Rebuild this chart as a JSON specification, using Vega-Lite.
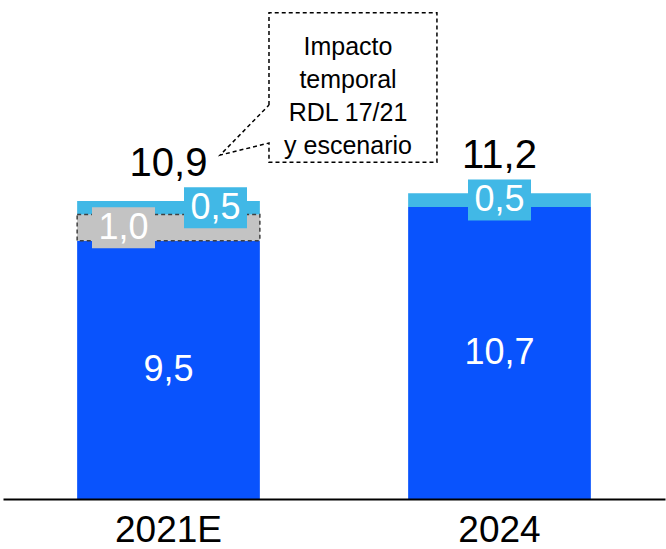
{
  "$schema": "https://vega.github.io/schema/vega-lite/v6.json",
  "width": 662,
  "height": 499,
  "autosize": "none",
  "padding": {"left": 3, "top": 0, "right": 1, "bottom": 50},
  "background": "#ffffff",
  "config": {
    "view": {"stroke": null},
    "font": "Liberation Sans",
    "locale": {"number": {"decimal": ",", "thousands": ".", "grouping": [3], "currency": ["", " €"]}}
  },
  "datasets": {
    "bars": [
      {"year": "2021E", "seg": "Base", "value": 9.46, "ord": 1},
      {"year": "2021E", "seg": "Impacto RDL", "value": 0.96, "ord": 2},
      {"year": "2021E", "seg": "Otros", "value": 0.5, "ord": 3},
      {"year": "2024", "seg": "Base", "value": 10.7, "ord": 1},
      {"year": "2024", "seg": "Otros", "value": 0.5, "ord": 3}
    ],
    "callout": [
      {"cx": 0.8036, "cy": 14.43, "k": 1},
      {"cx": 0.8036, "cy": 17.81, "k": 2},
      {"cx": 1.311, "cy": 17.81, "k": 3},
      {"cx": 1.311, "cy": 12.34, "k": 4},
      {"cx": 0.8036, "cy": 12.34, "k": 5},
      {"cx": 0.8036, "cy": 13.04, "k": 6},
      {"cx": 0.656, "cy": 12.6, "k": 7},
      {"cx": 0.8036, "cy": 14.43, "k": 8}
    ],
    "calloutText": [
      {"cx": 1.0423, "cy": 16.26, "txt": "Impacto\ntemporal\nRDL 17/21\ny escenario"}
    ]
  },
  "resolve": {"scale": {"x": "independent"}},
  "layer": [
    {
      "data": {"name": "bars"},
      "transform": [
        {"stack": "value", "groupby": ["year"], "sort": [{"field": "ord", "order": "ascending"}], "as": ["v0", "v1"]},
        {"calculate": "(datum.v0 + datum.v1) / 2", "as": "mid"}
      ],
      "encoding": {
        "x": {
          "field": "year", "type": "nominal", "sort": ["2021E", "2024"],
          "scale": {"paddingInner": 0.448, "paddingOuter": 0.224},
          "axis": {
            "title": null, "labelAngle": 0, "labelFontSize": 37, "labelColor": "#000000",
            "labelFont": "Liberation Sans", "ticks": false, "domainColor": "#000000",
            "domainWidth": 2, "labelPadding": 42, "labelBaseline": "alphabetic",
            "grid": false, "zindex": 1
          }
        }
      },
      "layer": [
        {
          "mark": {"type": "bar"},
          "encoding": {
            "y": {"field": "v0", "type": "quantitative", "scale": {"domain": [0, 18.28], "nice": false, "zero": false}, "axis": null},
            "y2": {"field": "v1"},
            "color": {"field": "seg", "type": "nominal", "scale": {"domain": ["Base", "Impacto RDL", "Otros"], "range": ["#0953FD", "#C3C3C3", "#41B8E6"]}, "legend": null}
          }
        },
        {
          "transform": [{"filter": "datum.seg === 'Impacto RDL'"}],
          "mark": {"type": "bar", "fillOpacity": 0, "stroke": "#404040", "strokeWidth": 1.5, "strokeDash": [4, 3]},
          "encoding": {
            "y": {"field": "v0", "type": "quantitative", "scale": {"domain": [0, 18.28], "nice": false, "zero": false}, "axis": null},
            "y2": {"field": "v1"}
          }
        },
        {
          "transform": [{"filter": "datum.seg === 'Base'"}],
          "mark": {"type": "text", "fontSize": 36, "color": "#ffffff", "baseline": "middle", "align": "center"},
          "encoding": {
            "y": {"field": "mid", "type": "quantitative", "scale": {"domain": [0, 18.28], "nice": false, "zero": false}, "axis": null},
            "text": {"field": "value", "type": "quantitative", "format": ".1f"}
          }
        },
        {
          "transform": [{"filter": "datum.year === '2021E' && datum.seg === 'Impacto RDL'"}],
          "layer": [
            {
              "mark": {"type": "point", "shape": "M-1,-0.651L1,-0.651L1,0.651L-1,0.651Z", "filled": true, "size": 3969, "opacity": 1, "xOffset": -45},
              "encoding": {
                "y": {"field": "mid", "type": "quantitative", "scale": {"domain": [0, 18.28], "nice": false, "zero": false}, "axis": null},
                "color": {"field": "seg", "type": "nominal", "legend": null}
              }
            },
            {
              "mark": {"type": "text", "fontSize": 36, "color": "#ffffff", "baseline": "middle", "align": "center", "dx": -45},
              "encoding": {
                "y": {"field": "mid", "type": "quantitative", "scale": {"domain": [0, 18.28], "nice": false, "zero": false}, "axis": null},
                "text": {"field": "value", "type": "quantitative", "format": ".1f"}
              }
            }
          ]
        },
        {
          "transform": [{"filter": "datum.year === '2021E' && datum.seg === 'Otros'"}],
          "layer": [
            {
              "mark": {"type": "point", "shape": "M-1,-0.651L1,-0.651L1,0.651L-1,0.651Z", "filled": true, "size": 3969, "opacity": 1, "xOffset": 47},
              "encoding": {
                "y": {"field": "mid", "type": "quantitative", "scale": {"domain": [0, 18.28], "nice": false, "zero": false}, "axis": null},
                "color": {"field": "seg", "type": "nominal", "legend": null}
              }
            },
            {
              "mark": {"type": "text", "fontSize": 36, "color": "#ffffff", "baseline": "middle", "align": "center", "dx": 47},
              "encoding": {
                "y": {"field": "mid", "type": "quantitative", "scale": {"domain": [0, 18.28], "nice": false, "zero": false}, "axis": null},
                "text": {"field": "value", "type": "quantitative", "format": ".1f"}
              }
            }
          ]
        },
        {
          "transform": [{"filter": "datum.year === '2024' && datum.seg === 'Otros'"}],
          "layer": [
            {
              "mark": {"type": "point", "shape": "M-1,-0.651L1,-0.651L1,0.651L-1,0.651Z", "filled": true, "size": 3969, "opacity": 1},
              "encoding": {
                "y": {"field": "mid", "type": "quantitative", "scale": {"domain": [0, 18.28], "nice": false, "zero": false}, "axis": null},
                "color": {"field": "seg", "type": "nominal", "legend": null}
              }
            },
            {
              "mark": {"type": "text", "fontSize": 36, "color": "#ffffff", "baseline": "middle", "align": "center"},
              "encoding": {
                "y": {"field": "mid", "type": "quantitative", "scale": {"domain": [0, 18.28], "nice": false, "zero": false}, "axis": null},
                "text": {"field": "value", "type": "quantitative", "format": ".1f"}
              }
            }
          ]
        },
        {
          "transform": [{"aggregate": [{"op": "sum", "field": "value", "as": "total"}], "groupby": ["year"]}],
          "mark": {"type": "text", "fontSize": 40, "color": "#000000", "baseline": "alphabetic", "align": "center", "dy": -25},
          "encoding": {
            "y": {"field": "total", "type": "quantitative", "scale": {"domain": [0, 18.28], "nice": false, "zero": false}, "axis": null},
            "text": {"field": "total", "type": "quantitative", "format": ".1f"}
          }
        }
      ]
    },
    {
      "layer": [
        {
          "data": {"name": "callout"},
          "mark": {"type": "line", "color": "#000000", "strokeWidth": 1.5, "strokeDash": [4, 3]},
          "encoding": {
            "x": {"field": "cx", "type": "quantitative", "scale": {"domain": [0, 2], "nice": false, "zero": false}, "axis": null},
            "y": {"field": "cy", "type": "quantitative", "scale": {"domain": [0, 18.28], "nice": false, "zero": false}, "axis": null},
            "order": {"field": "k", "type": "quantitative"}
          }
        },
        {
          "data": {"name": "calloutText"},
          "mark": {"type": "text", "fontSize": 25, "color": "#000000", "align": "center", "baseline": "alphabetic", "lineBreak": "\n", "lineHeight": 32.8},
          "encoding": {
            "x": {"field": "cx", "type": "quantitative", "scale": {"domain": [0, 2], "nice": false, "zero": false}, "axis": null},
            "y": {"field": "cy", "type": "quantitative", "scale": {"domain": [0, 18.28], "nice": false, "zero": false}, "axis": null},
            "text": {"field": "txt", "type": "nominal"}
          }
        }
      ]
    }
  ]
}
